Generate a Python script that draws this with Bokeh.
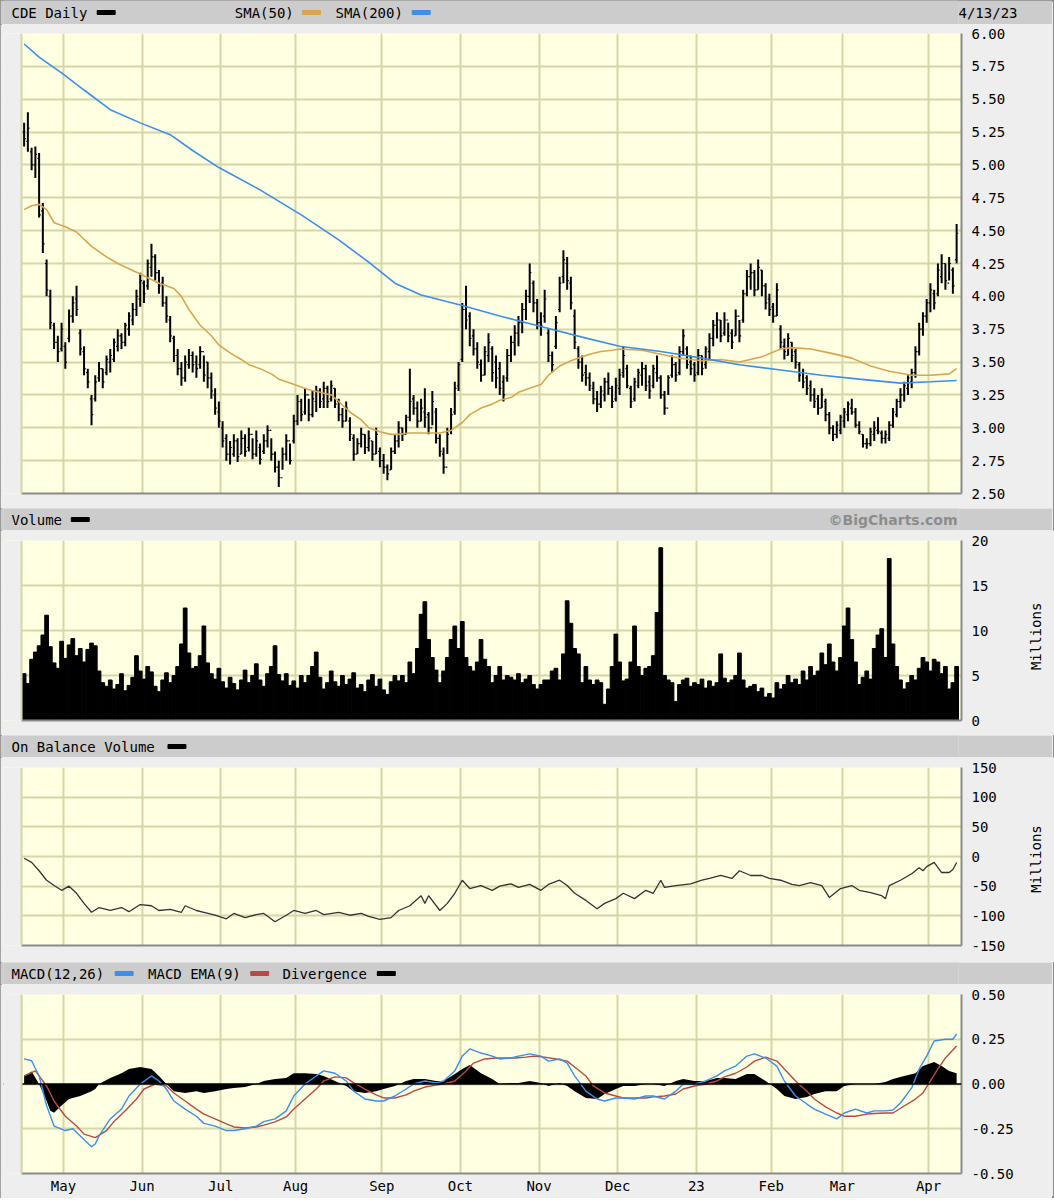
import math
from bokeh.plotting import figure
from bokeh.models import (Range1d, FixedTicker, PrintfTickFormatter, Label, BoxAnnotation,
                          ColumnDataSource, Span, LinearAxis)
from bokeh.layouts import column
from bokeh.transform import dodge
from bokeh.embed import file_html
from bokeh.resources import INLINE

# ------------------------------------------------------------------ data
# trading-day index 0 = 4/14/22 ... 249 = 4/13/23
month_start_idx = [11, 32, 53, 73, 96, 117, 138, 159, 180, 200, 219, 242]
month_labels = ["May", "Jun", "Jul", "Aug", "Sep", "Oct", "Nov", "Dec", "23", "Feb", "Mar", "Apr"]
header_date = "4/13/23"

price_ticks = [2.50, 2.75, 3.00, 3.25, 3.50, 3.75, 4.00, 4.25, 4.50, 4.75, 5.00, 5.25, 5.50, 5.75, 6.00]
volume_ticks = [0, 5, 10, 15, 20]
obv_ticks = [-150, -100, -50, 0, 50, 100, 150]
macd_ticks = [-0.50, -0.25, 0.00, 0.25, 0.50]

price_high = [
    5.32, 5.40, 5.13, 5.14, 5.09, 4.71, 4.28, 4.05, 3.80, 3.70,
    3.80, 3.65, 3.90, 4.00, 4.08, 3.75, 3.62, 3.45, 3.25, 3.40,
    3.50, 3.45, 3.55, 3.60, 3.68, 3.75, 3.72, 3.80, 3.88, 3.95,
    4.05, 4.18, 4.12, 4.28, 4.40, 4.32, 4.20, 4.15, 4.00, 3.85,
    3.70, 3.60, 3.50, 3.55, 3.60, 3.58, 3.55, 3.62, 3.55, 3.50,
    3.42, 3.30, 3.20, 3.05, 2.95, 2.90, 2.95, 2.92, 2.98, 2.95,
    3.00, 2.92, 2.98, 2.88, 2.95, 3.02, 2.92, 2.82, 2.75, 2.85,
    2.95, 2.88, 3.10, 3.25, 3.22, 3.30, 3.22, 3.28, 3.32, 3.30,
    3.35, 3.32, 3.36, 3.30, 3.22, 3.15, 3.20, 3.08, 2.95, 2.92,
    3.00, 2.95, 2.98, 2.90, 3.00, 2.85, 2.80, 2.72, 2.85, 2.95,
    3.05, 3.00, 3.10, 3.45, 3.25, 3.20, 3.22, 3.30, 3.12, 3.28,
    3.15, 2.95, 2.85, 3.00, 3.15, 3.35, 3.50, 3.95, 4.08, 3.88,
    3.75, 3.65, 3.52, 3.62, 3.72, 3.62, 3.55, 3.50, 3.40, 3.60,
    3.70, 3.78, 3.85, 3.95, 4.05, 4.25, 4.12, 3.98, 3.88, 4.05,
    3.75, 3.58, 3.85, 4.15, 4.35, 4.30, 4.15, 3.90, 3.62, 3.55,
    3.48, 3.42, 3.35, 3.28, 3.32, 3.38, 3.42, 3.32, 3.38, 3.45,
    3.62, 3.48, 3.32, 3.38, 3.45, 3.50, 3.48, 3.40, 3.48, 3.55,
    3.40, 3.28, 3.40, 3.55, 3.50, 3.62, 3.75, 3.62, 3.55, 3.50,
    3.60, 3.55, 3.62, 3.72, 3.82, 3.88, 3.82, 3.88, 3.80, 3.75,
    3.90, 3.82, 4.05, 4.20, 4.25, 4.20, 4.28, 4.20, 4.10, 4.02,
    3.95, 4.10, 3.78, 3.68, 3.72, 3.65, 3.60, 3.50, 3.45, 3.40,
    3.36, 3.30, 3.25, 3.30, 3.22, 3.12, 3.02, 3.05, 3.10, 3.15,
    3.20, 3.22, 3.15, 3.05, 2.95, 2.92, 3.00, 3.05, 3.08, 2.98,
    2.98, 3.05, 3.15, 3.22, 3.30, 3.35, 3.40, 3.45, 3.62, 3.80,
    3.88, 3.98, 4.10, 4.05, 4.25, 4.32, 4.25, 4.30, 4.22, 4.55]

price_low = [
    5.14, 5.10, 4.96, 4.90, 4.60, 4.33, 4.00, 3.75, 3.60, 3.50,
    3.58, 3.45, 3.65, 3.80, 3.85, 3.55, 3.40, 3.30, 3.02, 3.20,
    3.35, 3.30, 3.40, 3.42, 3.50, 3.58, 3.60, 3.62, 3.70, 3.78,
    3.85, 3.92, 3.95, 4.05, 4.15, 4.12, 4.02, 3.92, 3.80, 3.65,
    3.50, 3.40, 3.32, 3.35, 3.45, 3.42, 3.38, 3.45, 3.35, 3.30,
    3.22, 3.10, 3.00, 2.85, 2.75, 2.72, 2.78, 2.74, 2.80, 2.78,
    2.82, 2.76, 2.78, 2.72, 2.80, 2.85, 2.75, 2.66, 2.55, 2.68,
    2.75, 2.72, 2.88, 3.02, 3.05, 3.10, 3.05, 3.08, 3.12, 3.15,
    3.15, 3.15, 3.20, 3.15, 3.05, 3.00, 3.05, 2.90, 2.75, 2.80,
    2.85, 2.80, 2.82, 2.75, 2.80, 2.70, 2.65, 2.60, 2.68, 2.80,
    2.85, 2.90, 2.95, 3.05, 3.10, 3.00, 3.05, 3.00, 2.95, 3.02,
    2.88, 2.78, 2.65, 2.80, 2.95, 3.10, 3.28, 3.50, 3.75, 3.62,
    3.55, 3.45, 3.35, 3.40, 3.50, 3.35, 3.30, 3.25, 3.20, 3.35,
    3.50, 3.55, 3.62, 3.72, 3.82, 3.95, 3.88, 3.75, 3.70, 3.80,
    3.50, 3.42, 3.60, 3.88, 4.10, 4.05, 3.90, 3.60, 3.45, 3.35,
    3.32, 3.28, 3.18, 3.12, 3.15, 3.20, 3.25, 3.15, 3.20, 3.25,
    3.38, 3.30, 3.15, 3.20, 3.30, 3.32, 3.28, 3.22, 3.30, 3.35,
    3.22, 3.10, 3.25, 3.38, 3.35, 3.40, 3.55, 3.45, 3.40, 3.35,
    3.40, 3.40, 3.45, 3.52, 3.62, 3.68, 3.65, 3.70, 3.65, 3.60,
    3.70, 3.65, 3.80, 4.00, 4.05, 4.00, 4.05, 4.00, 3.90, 3.85,
    3.80, 3.85, 3.60, 3.52, 3.55, 3.50, 3.45, 3.35, 3.30, 3.25,
    3.20, 3.15, 3.10, 3.15, 3.05, 2.95, 2.90, 2.92, 2.95, 3.00,
    3.05, 3.10, 3.00, 2.95, 2.85, 2.84, 2.86, 2.90, 2.95, 2.88,
    2.88, 2.90, 3.00, 3.08, 3.15, 3.20, 3.25, 3.30, 3.38, 3.55,
    3.70, 3.80, 3.88, 3.90, 4.00, 4.10, 4.05, 4.12, 4.02, 4.25]

price_open = [
    5.25, 5.18, 5.10, 5.00, 5.05, 4.65, 4.25, 4.00, 3.78, 3.65,
    3.60, 3.62, 3.68, 3.85, 3.98, 3.72, 3.58, 3.42, 3.22, 3.22,
    3.38, 3.45, 3.42, 3.50, 3.52, 3.62, 3.70, 3.65, 3.75, 3.82,
    3.90, 3.98, 4.10, 4.08, 4.22, 4.30, 4.18, 4.10, 3.95, 3.82,
    3.68, 3.55, 3.45, 3.38, 3.48, 3.55, 3.50, 3.48, 3.58, 3.50,
    3.38, 3.25, 3.12, 3.00, 2.92, 2.80, 2.80, 2.90, 2.80, 2.92,
    2.85, 2.95, 2.80, 2.85, 2.82, 2.90, 2.98, 2.80, 2.70, 2.62,
    2.80, 2.90, 2.90, 3.05, 3.20, 3.12, 3.25, 3.10, 3.20, 3.28,
    3.22, 3.30, 3.22, 3.30, 3.20, 3.10, 3.05, 3.05, 2.92, 2.80,
    2.88, 2.95, 2.85, 2.90, 2.80, 2.82, 2.75, 2.70, 2.68, 2.82,
    2.90, 3.00, 2.95, 3.08, 3.22, 3.15, 3.05, 3.12, 3.10, 3.00,
    3.12, 2.92, 2.80, 2.70, 2.98, 3.12, 3.32, 3.52, 3.90, 3.85,
    3.70, 3.60, 3.48, 3.40, 3.55, 3.60, 3.50, 3.45, 3.35, 3.38,
    3.55, 3.65, 3.72, 3.80, 3.90, 4.00, 4.10, 3.95, 3.80, 3.85,
    3.72, 3.55, 3.62, 3.90, 4.15, 4.25, 4.10, 3.85, 3.60, 3.50,
    3.42, 3.38, 3.30, 3.22, 3.18, 3.25, 3.35, 3.30, 3.22, 3.30,
    3.42, 3.45, 3.30, 3.22, 3.32, 3.40, 3.45, 3.35, 3.32, 3.42,
    3.38, 3.25, 3.15, 3.40, 3.48, 3.42, 3.58, 3.60, 3.50, 3.48,
    3.42, 3.55, 3.48, 3.58, 3.68, 3.78, 3.82, 3.72, 3.82, 3.72,
    3.70, 3.85, 3.82, 4.02, 4.15, 4.18, 4.05, 4.20, 4.08, 3.98,
    3.92, 3.85, 3.75, 3.62, 3.55, 3.65, 3.58, 3.48, 3.42, 3.38,
    3.32, 3.25, 3.22, 3.15, 3.20, 3.10, 3.00, 2.95, 2.98, 3.05,
    3.10, 3.15, 3.12, 3.02, 2.95, 2.88, 2.88, 2.95, 2.98, 2.96,
    2.92, 2.92, 3.02, 3.10, 3.20, 3.25, 3.30, 3.35, 3.42, 3.58,
    3.75, 3.85, 3.95, 4.02, 4.02, 4.15, 4.25, 4.10, 4.20, 4.28]

price_close = [
    5.20, 5.28, 5.00, 5.08, 4.62, 4.40, 4.05, 3.80, 3.65, 3.58,
    3.75, 3.50, 3.85, 3.95, 3.90, 3.60, 3.45, 3.35, 3.10, 3.35,
    3.45, 3.35, 3.52, 3.55, 3.65, 3.70, 3.65, 3.78, 3.85, 3.90,
    4.00, 4.12, 4.02, 4.25, 4.30, 4.18, 4.08, 3.95, 3.85, 3.70,
    3.55, 3.45, 3.38, 3.50, 3.55, 3.48, 3.45, 3.58, 3.40, 3.38,
    3.28, 3.15, 3.05, 2.90, 2.80, 2.85, 2.90, 2.78, 2.92, 2.82,
    2.95, 2.80, 2.90, 2.76, 2.90, 2.98, 2.80, 2.70, 2.62, 2.80,
    2.90, 2.75, 3.05, 3.20, 3.10, 3.25, 3.10, 3.22, 3.28, 3.20,
    3.30, 3.20, 3.32, 3.18, 3.10, 3.05, 3.15, 2.95, 2.80, 2.88,
    2.95, 2.85, 2.92, 2.80, 2.95, 2.75, 2.70, 2.65, 2.82, 2.90,
    3.00, 2.95, 3.08, 3.20, 3.15, 3.05, 3.15, 3.08, 3.00, 3.20,
    2.92, 2.82, 2.70, 2.95, 3.10, 3.30, 3.48, 3.90, 3.82, 3.68,
    3.60, 3.50, 3.40, 3.58, 3.65, 3.42, 3.38, 3.30, 3.25, 3.55,
    3.65, 3.72, 3.80, 3.90, 4.00, 4.18, 3.95, 3.80, 3.78, 3.98,
    3.55, 3.48, 3.80, 4.10, 4.28, 4.12, 3.95, 3.65, 3.50, 3.40,
    3.38, 3.32, 3.22, 3.18, 3.28, 3.35, 3.30, 3.20, 3.32, 3.40,
    3.55, 3.32, 3.20, 3.35, 3.42, 3.45, 3.32, 3.28, 3.45, 3.38,
    3.25, 3.15, 3.38, 3.48, 3.40, 3.58, 3.70, 3.48, 3.45, 3.40,
    3.55, 3.45, 3.60, 3.68, 3.78, 3.82, 3.70, 3.82, 3.70, 3.65,
    3.85, 3.70, 4.02, 4.15, 4.18, 4.05, 4.22, 4.08, 3.95, 3.90,
    3.85, 4.05, 3.65, 3.58, 3.68, 3.55, 3.50, 3.40, 3.35, 3.30,
    3.25, 3.20, 3.15, 3.25, 3.10, 3.00, 2.95, 3.02, 3.08, 3.12,
    3.18, 3.12, 3.02, 2.97, 2.88, 2.88, 2.97, 3.00, 2.97, 2.92,
    2.95, 3.02, 3.12, 3.20, 3.25, 3.32, 3.38, 3.42, 3.58, 3.75,
    3.85, 3.95, 4.05, 3.95, 4.20, 4.25, 4.12, 4.25, 4.08, 4.48]

volume_millions = [
    5.2, 4.1, 6.8, 7.6, 8.3, 9.5, 11.7, 8.2, 6.4, 5.8,
    8.8, 6.9, 8.4, 9.1, 7.2, 8.0, 6.5, 7.9, 8.6, 8.3,
    5.5, 4.2, 3.8, 4.5, 3.5, 4.0, 5.2, 3.3, 3.9, 4.8,
    7.2, 5.5, 4.6, 6.0, 5.4, 3.8, 3.2, 4.5, 5.3, 4.2,
    5.0, 6.0, 8.5, 12.5, 7.5, 5.8, 6.0, 7.2, 10.5, 6.4,
    5.2, 4.6, 5.8, 4.3, 3.6, 4.8, 4.1, 3.4, 4.5, 5.6,
    4.2, 5.0, 6.3, 4.5, 3.8, 5.2, 6.0, 8.3, 5.1, 4.4,
    5.2, 3.9, 4.4, 3.6, 5.0, 4.2, 5.0, 6.0, 7.6, 4.8,
    3.5, 4.2, 5.5, 4.3, 3.8, 5.0, 4.0, 4.6, 5.3, 3.6,
    4.0, 3.2, 4.5, 5.1, 3.8, 4.6, 3.4, 2.9, 4.3, 5.0,
    4.4, 5.0, 4.2, 6.5, 5.2, 8.0, 11.8, 13.2, 9.0, 7.0,
    5.6, 4.2, 5.5, 7.0, 9.0, 10.5, 8.0, 11.0, 7.0, 6.0,
    5.5, 6.5, 9.0, 6.8, 6.0, 4.2, 5.0, 6.0, 4.5, 5.0,
    4.8, 4.5, 5.2, 4.2, 4.6, 5.0, 4.0, 3.5, 4.0, 4.5,
    4.5, 5.5, 5.8, 4.5, 7.4, 13.3, 10.8, 8.0, 7.4, 4.2,
    6.0, 4.5, 4.0, 4.5, 4.2, 1.8, 3.5, 6.0, 9.6, 6.5,
    4.4, 4.6, 6.5, 10.5, 6.0, 5.0, 5.8, 6.0, 7.2, 12.0,
    19.2, 5.0, 4.5, 4.2, 2.1, 4.0, 4.5, 4.7, 3.8, 4.2,
    4.0, 4.6, 3.6, 4.4, 3.8, 4.2, 7.4, 4.7, 4.2, 4.5,
    5.0, 7.5, 4.5, 3.6, 3.8, 4.0, 3.2, 3.6, 2.6, 3.0,
    2.5, 4.2, 3.5, 4.0, 5.0, 4.2, 4.6, 4.0, 5.5, 4.5,
    6.0, 5.0, 5.5, 7.5, 6.2, 8.5, 6.5, 5.5, 7.0, 10.5,
    12.5, 9.0, 6.5, 4.0, 4.8, 5.5, 4.6, 8.0, 9.5, 10.2,
    7.0, 18.0, 8.5, 6.0, 4.5, 3.5, 4.2, 5.0, 4.5, 5.8,
    7.0, 6.5, 5.5, 6.8, 6.5, 5.2, 6.0, 3.5, 4.2, 6.0]

sma50_idx = [0, 2, 4, 6, 8, 11, 14, 18, 22, 25, 31, 36, 40, 42, 44, 47, 50, 52, 55, 58,
             60, 63, 66, 68, 71, 74, 76, 79, 82, 84, 87, 90, 92, 95, 98, 100, 103, 106, 108, 111,
             114, 117, 119, 122, 125, 127, 130, 132, 135, 138, 140, 143, 146, 149, 151, 154, 157, 159, 165, 170,
             175, 181, 186, 191, 197, 202, 205, 210, 215, 221, 226, 231, 237, 242, 247, 249]
sma50_val = [4.66, 4.69, 4.70, 4.66, 4.56, 4.53, 4.49, 4.38, 4.30, 4.25, 4.17, 4.10, 4.06, 4.00, 3.90, 3.78, 3.70, 3.63, 3.57, 3.52,
             3.48, 3.45, 3.41, 3.37, 3.34, 3.31, 3.29, 3.27, 3.25, 3.20, 3.12, 3.06, 3.00, 2.97, 2.95, 2.95, 2.96, 2.96, 2.96, 2.96,
             2.98, 3.04, 3.10, 3.15, 3.18, 3.21, 3.23, 3.27, 3.30, 3.33, 3.40, 3.47, 3.51, 3.54, 3.56, 3.58, 3.59, 3.60, 3.59, 3.56,
             3.53, 3.51, 3.52, 3.50, 3.54, 3.60, 3.61, 3.60, 3.57, 3.53, 3.47, 3.43, 3.40, 3.40, 3.41, 3.45]

sma200_idx = [0, 4, 10, 16, 23, 31, 39, 45, 52, 63, 74, 84, 92, 99, 106, 117, 127, 138, 149, 159,
              170, 181, 191, 202, 213, 223, 234, 242, 249]
sma200_val = [5.92, 5.82, 5.70, 5.57, 5.42, 5.32, 5.23, 5.11, 4.98, 4.81, 4.62, 4.43, 4.26, 4.10, 4.01, 3.93, 3.85, 3.77, 3.69, 3.62,
              3.58, 3.53, 3.48, 3.44, 3.40, 3.37, 3.34, 3.35, 3.36]

obv_idx = [0, 2, 4, 6, 8, 10, 12, 14, 16, 18, 20, 23, 26, 28, 31, 34, 36, 39, 42, 43,
           46, 48, 51, 54, 56, 59, 62, 64, 67, 70, 72, 75, 78, 80, 84, 87, 90, 92, 95, 98,
           100, 103, 106, 107, 108, 111, 113, 115, 117, 119, 122, 125, 127, 130, 132, 135, 138, 140, 143, 145,
           147, 150, 153, 155, 158, 160, 163, 166, 168, 170, 171, 174, 178, 181, 183, 186, 189, 191, 194, 197,
           199, 202, 205, 207, 210, 213, 215, 218, 221, 223, 226, 229, 230, 231, 234, 237, 239, 240, 241, 243,
           245, 247, 248, 249]
obv_millions = [-3, -10, -24, -40, -49, -57, -50, -62, -79, -94, -86, -91, -86, -93, -81, -83, -91, -89, -94, -83,
                -91, -94, -99, -105, -96, -103, -98, -96, -110, -99, -91, -96, -91, -98, -94, -99, -96, -101, -106, -103,
                -91, -83, -66, -79, -66, -91, -79, -62, -40, -54, -49, -57, -50, -46, -52, -47, -57, -47, -40, -49,
                -62, -74, -88, -79, -71, -62, -71, -57, -62, -40, -52, -49, -46, -40, -37, -32, -37, -24, -32, -32,
                -37, -40, -47, -49, -44, -49, -69, -54, -49, -57, -61, -66, -71, -49, -40, -29, -19, -24, -17, -10,
                -27, -27, -22, -10]

macd_idx = [0, 2, 4, 6, 8, 11, 13, 15, 18, 19, 20, 23, 26, 28, 31, 34, 36, 38, 40, 43,
            46, 48, 51, 54, 56, 59, 62, 64, 67, 70, 72, 75, 78, 80, 83, 86, 88, 91, 94, 96,
            99, 102, 104, 107, 110, 112, 115, 117, 119, 122, 125, 127, 130, 132, 135, 138, 140, 143, 145, 147,
            150, 153, 155, 158, 160, 163, 166, 168, 171, 174, 176, 179, 182, 185, 187, 190, 193, 195, 198, 201,
            203, 206, 209, 211, 214, 217, 219, 222, 225, 227, 230, 232, 234, 237, 239, 241, 243, 246, 248, 249]
macd_val = [0.14, 0.13, 0.045, -0.12, -0.235, -0.26, -0.25, -0.29, -0.35, -0.335, -0.29, -0.195, -0.14, -0.067, 0.0, 0.045, 0.017, -0.028, -0.095, -0.14,
            -0.18, -0.22, -0.235, -0.26, -0.26, -0.25, -0.235, -0.21, -0.195, -0.15, -0.067, 0.0, 0.045, 0.073, 0.06, 0.017, -0.04, -0.084, -0.095, -0.095,
            -0.067, -0.028, 0.0, 0.017, 0.006, 0.017, 0.073, 0.156, 0.196, 0.173, 0.156, 0.14, 0.145, 0.156, 0.168, 0.156, 0.128, 0.14, 0.117, 0.045,
            -0.04, -0.084, -0.095, -0.078, -0.078, -0.084, -0.067, -0.067, -0.084, -0.04, 0.0, 0.0, 0.017, 0.045, 0.073, 0.10, 0.156, 0.168, 0.145, 0.10,
            0.017, -0.067, -0.112, -0.14, -0.168, -0.195, -0.162, -0.14, -0.162, -0.15, -0.15, -0.145, -0.106, -0.022, 0.084, 0.156, 0.24, 0.25, 0.25, 0.28]

signal_idx = [0, 3, 6, 8, 11, 14, 16, 19, 22, 24, 27, 30, 32, 35, 38, 40, 43, 46, 48, 51,
              54, 56, 59, 62, 64, 67, 70, 72, 75, 78, 80, 83, 86, 88, 91, 94, 96, 99, 102, 104,
              107, 110, 112, 115, 118, 120, 123, 126, 128, 131, 134, 136, 139, 142, 145, 147, 150, 152, 155, 158,
              160, 163, 166, 168, 171, 174, 176, 179, 182, 185, 187, 190, 193, 195, 198, 201, 203, 206, 209, 211,
              214, 217, 219, 222, 225, 227, 230, 232, 235, 238, 240, 242, 244, 246, 249]
signal_val = [0.045, 0.073, -0.011, -0.095, -0.18, -0.235, -0.28, -0.30, -0.26, -0.21, -0.15, -0.084, -0.028, 0.0, -0.011, -0.05, -0.095, -0.14, -0.168, -0.195,
              -0.223, -0.24, -0.246, -0.24, -0.23, -0.212, -0.184, -0.14, -0.084, -0.028, 0.017, 0.04, 0.034, 0.006, -0.028, -0.061, -0.078, -0.078, -0.061, -0.04,
              -0.017, -0.006, 0.0, 0.017, 0.073, 0.117, 0.14, 0.145, 0.145, 0.145, 0.15, 0.156, 0.15, 0.14, 0.128, 0.095, 0.045, -0.011, -0.05, -0.067,
              -0.078, -0.078, -0.078, -0.072, -0.067, -0.056, -0.028, -0.011, 0.0, 0.017, 0.04, 0.06, 0.095, 0.128, 0.15, 0.128, 0.084, 0.017, -0.04, -0.084,
              -0.128, -0.162, -0.18, -0.18, -0.168, -0.165, -0.162, -0.162, -0.123, -0.084, -0.05, 0.017, 0.084, 0.145, 0.212]

div_idx = [0, 2, 4, 6, 7, 8, 10, 12, 15, 18, 19, 20, 23, 26, 28, 31, 34, 36, 38, 40,
           43, 46, 48, 51, 54, 56, 59, 62, 64, 67, 70, 72, 75, 78, 80, 83, 86, 88, 91, 94,
           96, 99, 102, 104, 107, 110, 112, 115, 117, 119, 122, 125, 127, 130, 132, 135, 138, 140, 143, 145,
           147, 150, 153, 155, 158, 160, 163, 166, 168, 171, 174, 176, 179, 182, 185, 187, 190, 193, 195, 198,
           201, 203, 206, 209, 211, 214, 217, 219, 222, 225, 227, 230, 232, 235, 238, 240, 243, 245, 247, 249]
div_val = [0.045, 0.07, 0.0, -0.095, -0.15, -0.16, -0.12, -0.084, -0.067, -0.04, -0.028, 0.0, 0.034, 0.06, 0.084, 0.095, 0.084, 0.045, 0.0, -0.04,
           -0.05, -0.04, -0.05, -0.04, -0.028, -0.022, -0.017, 0.0, 0.017, 0.028, 0.034, 0.06, 0.06, 0.056, 0.045, 0.017, -0.011, -0.04, -0.05, -0.04,
           -0.028, -0.011, 0.017, 0.028, 0.028, 0.017, 0.017, 0.056, 0.084, 0.106, 0.06, 0.028, 0.0, 0.006, 0.006, 0.017, 0.006, -0.011, 0.006, -0.011,
           -0.04, -0.078, -0.084, -0.056, -0.028, -0.011, -0.011, 0.0, 0.0, -0.011, 0.017, 0.028, 0.017, 0.017, 0.034, 0.034, 0.028, 0.056, 0.056, 0.017,
           -0.028, -0.067, -0.084, -0.073, -0.056, -0.04, -0.04, -0.011, 0.0, 0.0, 0.0, 0.011, 0.028, 0.045, 0.06, 0.10, 0.123, 0.10, 0.073, 0.06]

# ------------------------------------------------------------------ style
FONT = "DejaVu Sans Mono"
BG = "#EEEEEE"
HDR = "#CCCCCC"
PANEL = "#FFFFE2"
GRID = "#D6D6A6"
EDGE = "#8A8A8A"
GOLD = "#D9A54E"
BLUE = "#3B8EEA"
RED = "#B84A46"

# page geometry (px): chart area runs from 21 to 961; the plotting frames start at 3 so
# that the header strips (which share the frame alignment) can hold text from x = 11.
FRAME_LEFT_PX, DATA_LEFT_PX, DATA_RIGHT_PX, RIGHT = 3, 21, 961, 91
FRAME_W = DATA_RIGHT_PX - FRAME_LEFT_PX
TOTAL_W = FRAME_LEFT_PX + FRAME_W + RIGHT

day_idx = list(range(len(price_high)))
grid_pos = [m - 0.5 for m in month_start_idx]
data_lo, data_hi = -0.7, 250.3
px_per_day = (DATA_RIGHT_PX - DATA_LEFT_PX) / (data_hi - data_lo)
x_range = Range1d(data_lo - (DATA_LEFT_PX - FRAME_LEFT_PX) / px_per_day, data_hi)


def header(h, items, right=None, date=None):
    f = figure(width=TOTAL_W, height=h, x_range=Range1d(FRAME_LEFT_PX, DATA_RIGHT_PX), y_range=Range1d(0, h),
               toolbar_location=None, output_backend="svg",
               min_border_left=FRAME_LEFT_PX, min_border_right=RIGHT, min_border_top=0, min_border_bottom=0,
               x_axis_location=None, y_axis_location="right",
               background_fill_color=HDR, border_fill_color=HDR, outline_line_color=None)
    f.xgrid.visible = False
    f.ygrid.visible = False
    f.yaxis.axis_line_color = None
    f.yaxis.major_tick_line_color = None
    f.yaxis.minor_tick_line_color = None
    f.yaxis.major_tick_out = 0
    f.yaxis.major_tick_in = 0
    f.yaxis.major_label_standoff = 0
    f.yaxis.major_label_text_font = FONT
    f.yaxis.major_label_text_font_size = "14px"
    f.yaxis.major_label_text_color = "#000000"
    if date is not None:
        f.yaxis.ticker = FixedTicker(ticks=[h / 2], minor_ticks=[])
        f.yaxis.major_label_overrides = {h / 2: date}
    else:
        f.yaxis.ticker = FixedTicker(ticks=[], minor_ticks=[])
    for text, tx, sw_left, color in items:
        f.add_layout(Label(x=tx, y=h / 2, text=text, text_font=FONT, text_font_size="14px",
                           text_baseline="middle", text_align="left", text_color="#000000"))
        f.add_layout(BoxAnnotation(left=sw_left, right=sw_left + 18, bottom=h / 2 - 2, top=h / 2 + 2,
                                   fill_color=color, fill_alpha=1.0, line_color=color, line_alpha=1.0))
    if right is not None:
        text, tx, font, size, style, color = right
        f.add_layout(Label(x=tx, y=h / 2, text=text, text_font=font, text_font_size=size,
                           text_font_style=style, text_baseline="middle", text_align="right",
                           text_color=color))
    return f


def panel(frame_h, y0, y1, yticks, fmt, top, bottom, show_x=False):
    p = figure(frame_width=FRAME_W, frame_height=frame_h, x_range=x_range, y_range=Range1d(y0, y1),
               toolbar_location=None, output_backend="svg", y_axis_location="right",
               min_border_left=FRAME_LEFT_PX, min_border_right=RIGHT, min_border_top=top, min_border_bottom=bottom,
               background_fill_color=PANEL, border_fill_color=BG, outline_line_color=None)
    month_ticker = FixedTicker(ticks=grid_pos, minor_ticks=[])
    p.xgrid.ticker = month_ticker
    if show_x:
        p.xaxis.ticker = month_ticker
        p.xaxis.major_label_overrides = {g: lab for g, lab in zip(grid_pos, month_labels)}
        p.xaxis.major_label_text_font = FONT
        p.xaxis.major_label_text_font_size = "14px"
        p.xaxis.major_label_text_color = "#000000"
        p.xaxis.major_label_standoff = 4
    else:
        p.xaxis.ticker = FixedTicker(ticks=[], minor_ticks=[])
        p.xaxis.major_label_standoff = 0
    p.xaxis.bounds = (data_lo, data_hi)
    p.xaxis.major_tick_line_color = None
    p.xaxis.major_tick_out = 0
    p.xaxis.major_tick_in = 0
    p.xaxis.minor_tick_line_color = None
    p.xaxis.axis_line_color = EDGE
    p.xaxis.axis_line_width = 2
    yt = FixedTicker(ticks=yticks, minor_ticks=[])
    p.yaxis.ticker = yt
    p.ygrid.ticker = yt
    p.yaxis.formatter = PrintfTickFormatter(format=fmt)
    p.yaxis.major_tick_line_color = None
    p.yaxis.major_tick_out = 0
    p.yaxis.major_tick_in = 0
    p.yaxis.minor_tick_line_color = None
    p.yaxis.axis_line_color = EDGE
    p.yaxis.axis_line_width = 2
    p.yaxis.major_label_standoff = 10
    p.yaxis.major_label_text_font = FONT
    p.yaxis.major_label_text_font_size = "14px"
    p.yaxis.major_label_text_color = "#000000"
    for g in (p.xgrid, p.ygrid):
        g.grid_line_color = GRID
        g.grid_line_width = 2
    # grey margin left of the chart area, and the chart's left edge
    p.add_layout(BoxAnnotation(right=data_lo, fill_color=BG, fill_alpha=1.0, line_alpha=0.0))
    p.add_layout(Span(location=data_lo, dimension="height", line_color=GRID, line_width=2))
    return p


def side_caption(p, text, start_at, standoff):
    # a second right axis that only carries the rotated unit caption (reads bottom to top)
    ax = LinearAxis(ticker=FixedTicker(ticks=[start_at], minor_ticks=[]),
                    major_label_overrides={start_at: text},
                    major_label_orientation=math.pi / 2,
                    axis_line_color=None, major_tick_line_color=None, minor_tick_line_color=None,
                    major_tick_out=0, major_tick_in=0, major_label_standoff=standoff,
                    major_label_text_font=FONT, major_label_text_font_size="14px",
                    major_label_text_color="#000000")
    p.add_layout(ax, "right")


# ------------------------------------------------------------------ headers
h1 = header(24, [("CDE Daily", 11, 97, "#000000"), ("SMA(50)", 235, 303, GOLD), ("SMA(200)", 336, 413, BLUE)],
            date=header_date)
h2 = header(22, [("Volume", 11, 71, "#000000")],
            right=("\u00a9BigCharts.com", 960, "DejaVu Sans", "14px", "bold", "#8C8C8C"))
h3 = header(22, [("On Balance Volume", 11, 168, "#000000")])
h4 = header(22, [("MACD(12,26)", 11, 115, BLUE), ("MACD EMA(9)", 148, 251, RED), ("Divergence", 283, 378, "#000000")])

# ------------------------------------------------------------------ price
src = ColumnDataSource(dict(idx=day_idx, high=price_high, low=price_low, open=price_open, close=price_close))
pp = panel(460, 2.5, 6.0, price_ticks, "%.2f", top=9, bottom=15)
pp.segment(x0="idx", y0="low", x1="idx", y1="high", source=src, line_color="#000000", line_width=2)
pp.segment(x0=dodge("idx", -0.45, range=pp.x_range), y0="open", x1="idx", y1="open", source=src,
           line_color="#000000", line_width=1.2)
pp.segment(x0="idx", y0="close", x1=dodge("idx", 0.45, range=pp.x_range), y1="close", source=src,
           line_color="#000000", line_width=1.2)
pp.line(sma50_idx, sma50_val, line_color=GOLD, line_width=1.6)
pp.line(sma200_idx, sma200_val, line_color=BLUE, line_width=1.6)

# ------------------------------------------------------------------ volume
pv = panel(180, 0, 20, volume_ticks, "%d", top=10, bottom=15)
pv.vbar(x=day_idx, top=volume_millions, bottom=0, width=1.0, fill_color="#000000",
        line_color="#000000", line_width=1.0)
side_caption(pv, "Millions", 5.6, 45)

# ------------------------------------------------------------------ OBV
po = panel(178, -150, 150, obv_ticks, "%d", top=10, bottom=17)
po.line(obv_idx, obv_millions, line_color="#333333", line_width=1.3)
side_caption(po, "Millions", -61, 28)

# ------------------------------------------------------------------ MACD
pm = panel(179, -0.5, 0.5, macd_ticks, "%.2f", top=10, bottom=25, show_x=True)
pm.varea(x=div_idx, y1=0, y2=div_val, fill_color="#000000")
pm.add_layout(Span(location=0, dimension="width", line_color="#000000", line_width=1.5))
pm.line(signal_idx, signal_val, line_color=RED, line_width=1.4)
pm.line(macd_idx, macd_val, line_color=BLUE, line_width=1.4)
# keep the zero line inside the chart area only
pm.add_layout(BoxAnnotation(right=data_lo, fill_color=BG, fill_alpha=1.0, line_alpha=0.0))
pm.add_layout(Span(location=data_lo, dimension="height", line_color=GRID, line_width=2))

layout = column(h1, pp, h2, pv, h3, po, h4, pm, spacing=0,
                styles={"background-color": BG, "outline": "2px solid #8A8A8A", "outline-offset": "-2px"})

open("out.html", "w").write(file_html(layout, INLINE))
